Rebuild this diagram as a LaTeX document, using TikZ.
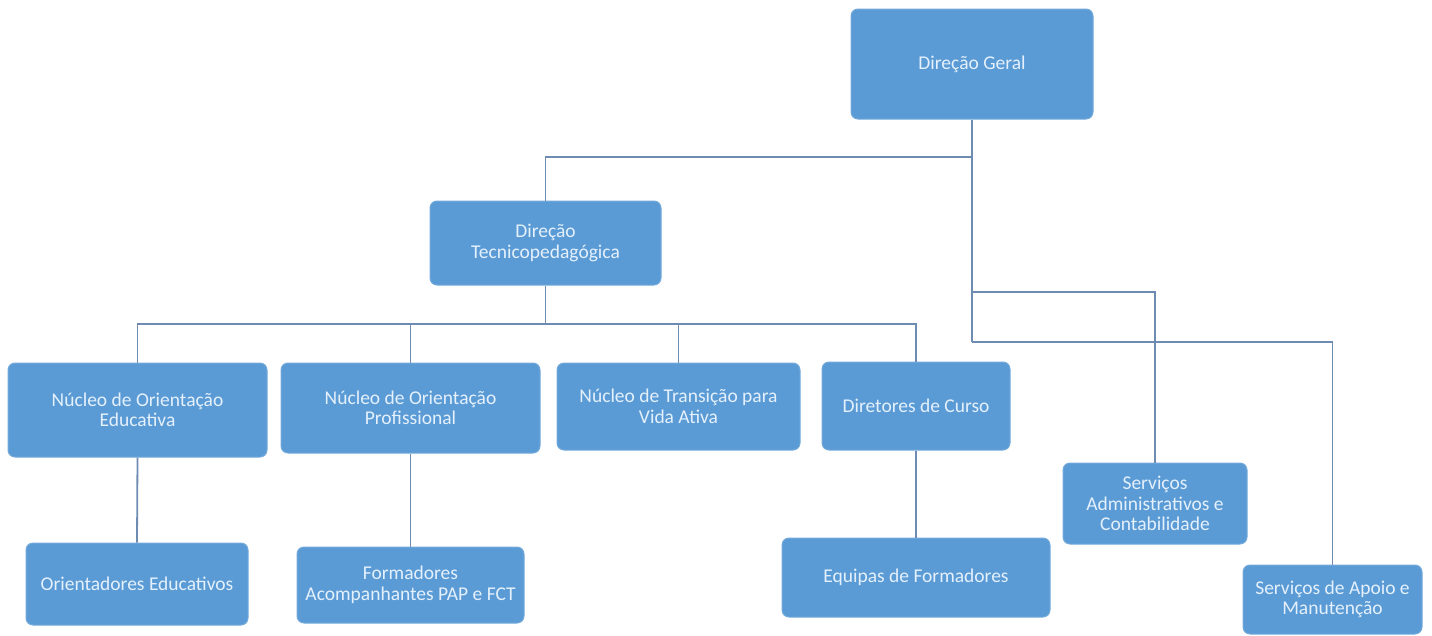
\documentclass[tikz,border=0pt]{standalone}
\usepackage{fontspec}
\setmainfont{Carlito}
\definecolor{boxfill}{HTML}{5B9BD5}
\definecolor{boxtext}{HTML}{E4F0FC}
\definecolor{linecol}{HTML}{6E8CB2}
\begin{document}
\begin{tikzpicture}[x=1pt,y=-1pt,
  orgbox/.style={draw=boxfill!85!white, line width=1pt, fill=boxfill, rounded corners=7pt,
    text=boxtext, align=center, inner sep=2pt,
    font=\fontsize{19.5}{20.5}\selectfont},
  conn/.style={draw=linecol, line width=1.8pt}]
\useasboundingbox (0,0) rectangle (1432,635);
\node[orgbox, minimum width=242pt, minimum height=110pt] (DG) at (972,64) {Direção Geral};
\node[orgbox, minimum width=231pt, minimum height=84pt] (DT) at (545.5,243) {Direção\\Tecnicopedagógica};
\node[orgbox, minimum width=259pt, minimum height=94pt] (NOE) at (137.5,410) {Núcleo de Orientação\\Educativa};
\node[orgbox, minimum width=259pt, minimum height=90pt] (NOP) at (410.5,408) {Núcleo de Orientação\\Profissional};
\node[orgbox, minimum width=243pt, minimum height=87pt] (NTVA) at (678.5,406.5) {Núcleo de Transição para\\Vida Ativa};
\node[orgbox, minimum width=188pt, minimum height=88pt] (DC) at (916,406) {Diretores de Curso};
\node[orgbox, minimum width=222pt, minimum height=82pt] (OE) at (137,584) {Orientadores Educativos};
\node[orgbox, minimum width=227pt, minimum height=76pt] (FA) at (410.5,585) {Formadores\\Acompanhantes PAP e FCT};
\node[orgbox, minimum width=268pt, minimum height=79pt] (EF) at (916,577.5) {Equipas de Formadores};
\node[orgbox, minimum width=184pt, minimum height=81pt] (SAC) at (1155,503.5) {Serviços\\Administrativos e\\Contabilidade};
\node[orgbox, minimum width=179pt, minimum height=69pt] (SAM) at (1332.5,599.5) {Serviços de Apoio e\\Manutenção};
\coordinate (j1) at (972,157);
\coordinate (j2) at (972,292);
\coordinate (j3) at (972,342);
\coordinate (j4) at (545.5,324);
\draw[conn] (DG.south) -- (j3);
\draw[conn] (j1) -| (DT.north);
\draw[conn] (j2) -| (SAC.north);
\draw[conn] (j3) -| (SAM.north);
\draw[conn] (DT.south) -- (j4);
\draw[conn] (j4) -| (NOE.north);
\draw[conn] (j4) -| (DC.north);
\draw[conn] (j4 -| NOP.north) -- (NOP.north);
\draw[conn] (j4 -| NTVA.north) -- (NTVA.north);
\draw[conn] (NOE.south) -- (OE.north);
\draw[conn] (NOP.south) -- (FA.north);
\draw[conn] (DC.south) -- (EF.north);
\end{tikzpicture}
\end{document}
